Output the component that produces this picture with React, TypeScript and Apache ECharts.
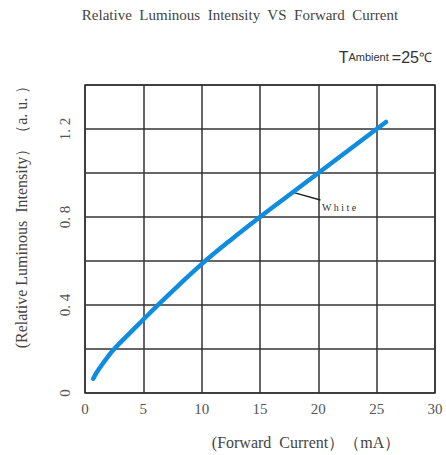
import React, { useEffect, useRef } from "react";
import * as echarts from "echarts";

const titleText = "Relative  Luminous  Intensity  VS  Forward  Current";
const xName = "(Forward  Current）（mA）";
const yName = "(Relative Luminous  Intensity）（a. u. ）";
const seriesName = "White";
const current = [0.7, 1.0, 1.5, 2.0, 2.5, 3.3, 4, 5, 6.2, 8, 10, 12.5, 15, 17.5, 20, 22.5, 25, 25.8];
const intensity = [0.065, 0.093, 0.132, 0.168, 0.2, 0.244, 0.281, 0.334, 0.397, 0.488, 0.586, 0.696, 0.8, 0.9, 1.0, 1.1, 1.2, 1.232];
const leader = [
  [17.83, 0.912],
  [20.18, 0.877],
];

const SERIF = "'Liberation Serif', 'DejaVu Serif', serif";
const SANS = "'Liberation Sans', Arial, sans-serif";

export default function App() {
  const ref = useRef<HTMLDivElement>(null);
  useEffect(() => {
    if (!ref.current) return;
    const chart = echarts.init(ref.current, undefined, { renderer: "svg" });
    chart.setOption({
      animation: false,
      backgroundColor: "#ffffff",
      grid: {
        left: 85,
        right: 11,
        top: 85,
        bottom: 62,
        show: true,
        borderColor: "#333333",
        borderWidth: 1.5,
        backgroundColor: "transparent",
      },
      xAxis: {
        type: "value",
        min: 0,
        max: 30,
        interval: 5,
        axisLine: { show: false },
        axisTick: { show: false },
        splitLine: { show: true, lineStyle: { color: "#333333", width: 1.5 } },
        axisLabel: { fontFamily: SERIF, fontSize: 15, color: "#555555", margin: 8 },
      },
      yAxis: {
        type: "value",
        min: 0,
        max: 1.4,
        interval: 0.2,
        axisLine: { show: false },
        axisTick: { show: false },
        splitLine: { show: true, lineStyle: { color: "#333333", width: 1.5 } },
        axisLabel: {
          fontFamily: SERIF,
          fontSize: 15,
          color: "#555555",
          rotate: 90,
          margin: 13,
          showMaxLabel: false,
          formatter: (v: number) => {
            const r = Math.round(v * 10);
            if (r % 4 !== 0) return "";
            if (r === 0) return "0";
            return (r / 10).toFixed(1).replace(".", ". ");
          },
        },
      },
      series: [
        {
          name: seriesName,
          type: "line",
          smooth: 0.4,
          showSymbol: false,
          data: current.map((c, i) => [c, intensity[i]]),
          lineStyle: { color: "#0f8ce0", width: 4.5, cap: "round" },
          itemStyle: { color: "#0f8ce0" },
          z: 5,
          markLine: {
            silent: true,
            symbol: "none",
            label: { show: false },
            lineStyle: { color: "#222222", width: 1.5, type: "solid" },
            data: [[{ coord: leader[0] }, { coord: leader[1] }]],
          },
        },
      ],
      graphic: [
        {
          type: "text",
          x: 240,
          y: 15,
          style: {
            text: titleText,
            font: `15px ${SERIF}`,
            fill: "#444444",
            align: "center",
            verticalAlign: "middle",
          },
        },
        {
          type: "text",
          x: 432,
          y: 57,
          style: {
            text: "{a|T}{b|Ambient }{c|=25}{d|℃}",
            align: "right",
            verticalAlign: "middle",
            rich: {
              a: { fontFamily: SANS, fontSize: 16, fill: "#333333" },
              b: { fontFamily: SANS, fontSize: 11, fill: "#333333" },
              c: { fontFamily: SANS, fontSize: 16, fill: "#333333" },
              d: { fontFamily: SANS, fontSize: 13, fill: "#333333" },
            },
          },
        },
        {
          type: "text",
          x: 322,
          y: 207,
          style: {
            text: "W h i t e",
            font: `10px ${SERIF}`,
            fill: "#333333",
            align: "left",
            verticalAlign: "middle",
          },
        },
        {
          type: "text",
          x: 306,
          y: 442,
          style: {
            text: xName,
            font: `16px ${SERIF}`,
            fill: "#444444",
            align: "center",
            verticalAlign: "middle",
          },
        },
        {
          type: "text",
          x: 21,
          y: 213,
          rotation: Math.PI / 2,
          style: {
            text: yName,
            font: `16px ${SERIF}`,
            fill: "#444444",
            align: "center",
            verticalAlign: "middle",
          },
        },
      ],
    });
    return () => chart.dispose();
  }, []);
  return <div ref={ref} style={{ width: 446, height: 455, position: "absolute", left: 0, top: 0 }} />;
}
